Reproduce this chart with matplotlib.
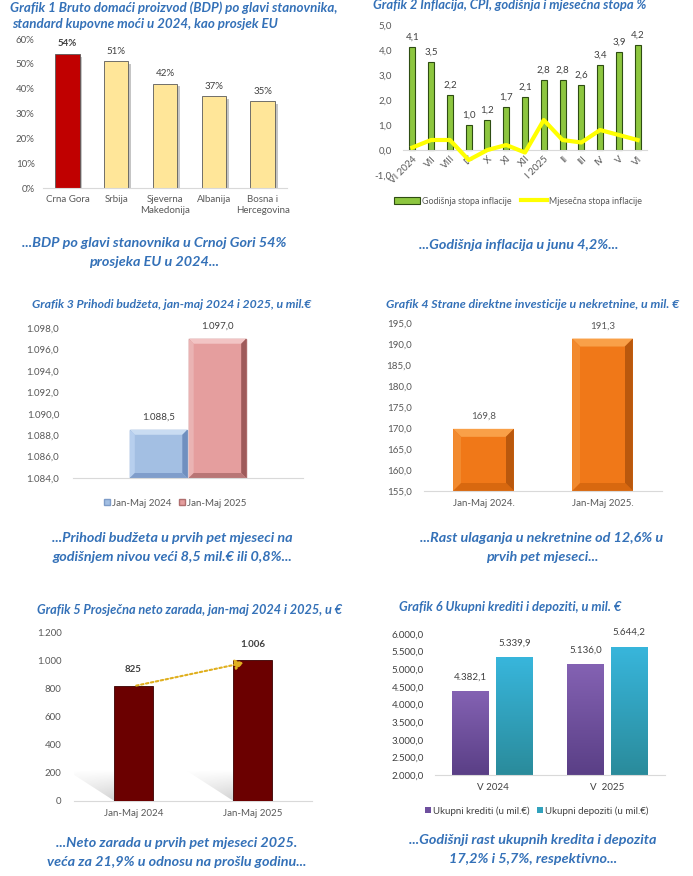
import numpy as np
import matplotlib
matplotlib.use("Agg")
import matplotlib.pyplot as plt
from matplotlib.patches import Polygon, Patch
from matplotlib.lines import Line2D
from matplotlib.colors import LinearSegmentedColormap
import matplotlib.patheffects as pe

# ---------------- data ----------------
p1_countries = ["Crna Gora", "Srbija", "Sjeverna\nMakedonija", "Albanija", "Bosna i\nHercegovina"]
p1_values = [54, 51, 42, 37, 35]

p2_months = ["VI 2024", "VII", "VIII", "IX", "X", "XI", "XII", "I 2025", "II", "III", "IV", "V", "VI"]
p2_annual = [4.1, 3.5, 2.2, 1.0, 1.2, 1.7, 2.1, 2.8, 2.8, 2.6, 3.4, 3.9, 4.2]
p2_monthly = [0.1, 0.4, 0.4, -0.4, 0.0, 0.2, -0.1, 1.2, 0.4, 0.3, 0.8, 0.6, 0.4]

p3_series = ["Jan-Maj 2024", "Jan-Maj 2025"]
p3_values = [1088.5, 1097.0]

p4_periods = ["Jan-Maj 2024.", "Jan-Maj 2025."]
p4_values = [169.8, 191.3]

p5_periods = ["Jan-Maj 2024", "Jan-Maj 2025"]
p5_values = [825, 1006]

p6_periods = ["V 2024", "V  2025"]
p6_credits = [4382.1, 5136.0]
p6_deposits = [5339.9, 5644.2]
p6_series = ["Ukupni krediti (u mil.€)", "Ukupni depoziti (u mil.€)"]

# ---------------- styling ----------------
FONT = ["Lato", "DejaVu Sans"]
plt.rcParams["font.family"] = FONT
W, H = 693, 876
BLUE = "#3471b8"
TICK = "#595959"
LBL = "#404040"
AXLINE = "#d9d9d9"
FS = 7.0

fig = plt.figure(figsize=(W / 100, H / 100), dpi=100)
fig.patch.set_facecolor("white")


def axpx(l, t, r, b):
    return fig.add_axes([l / W, 1 - b / H, (r - l) / W, (b - t) / H])


def ftext(x, y, s, **kw):
    return fig.text(x / W, 1 - y / H, s, **kw)


def title(x, y, s, size=9.3):
    ftext(x, y, s, ha="left", va="center", fontsize=size, fontweight="bold",
          fontstyle="italic", color=BLUE)


def subtitle(x, y, lines):
    for i, s in enumerate(lines):
        ftext(x, y + i * 19, s, ha="center", va="center", fontsize=10.4,
              fontweight="bold", fontstyle="italic", color=BLUE)


def num(v, dec):
    s = f"{v:,.{dec}f}"
    return s.replace(",", "#").replace(".", ",").replace("#", ".")


def style_ax(ax):
    for s in ["top", "right", "left"]:
        ax.spines[s].set_visible(False)
    ax.spines["bottom"].set_color(AXLINE)
    ax.tick_params(axis="both", length=0, colors=TICK, labelsize=FS)
    ax.set_facecolor("none")


def px_per_unit(ax):
    bb = ax.get_position()
    x0, x1 = ax.get_xlim()
    y0, y1 = ax.get_ylim()
    return bb.width * W / (x1 - x0), bb.height * H / (y1 - y0)


def bevel(ax, bar, face, light, side_light, dark, bottom, inset_px):
    pxx, pxy = px_per_unit(ax)
    dx, dy = inset_px / pxx, inset_px / pxy
    L = bar.get_x(); R = L + bar.get_width()
    B = bar.get_y(); T = B + bar.get_height()
    z = bar.get_zorder() + 0.1
    polys = [
        ([(L, T), (R, T), (R - dx, T - dy), (L + dx, T - dy)], light),
        ([(L, B), (L, T), (L + dx, T - dy), (L + dx, B + dy)], side_light),
        ([(R, B), (R, T), (R - dx, T - dy), (R - dx, B + dy)], dark),
        ([(L, B), (R, B), (R - dx, B + dy), (L + dx, B + dy)], bottom),
        ([(L + dx, B + dy), (R - dx, B + dy), (R - dx, T - dy), (L + dx, T - dy)], face),
    ]
    for pts, c in polys:
        ax.add_patch(Polygon(pts, closed=True, facecolor=c, edgecolor="none", zorder=z))


def gradient_bar(ax, bar, top_c, bot_c):
    x0, y0 = bar.get_x(), bar.get_y()
    w, h = bar.get_width(), bar.get_height()
    cmap = LinearSegmentedColormap.from_list("g", [bot_c, top_c])
    grad = np.linspace(0, 1, 200).reshape(-1, 1)
    im = ax.imshow(grad, extent=[x0, x0 + w, y0, y0 + h], origin="lower",
                   cmap=cmap, aspect="auto", zorder=bar.get_zorder() + 0.1,
                   interpolation="bilinear")
    im.set_clip_path(bar)


# ================= Panel 1 =================
title(10, 8, "Grafik 1 Bruto domaći proizvod (BDP) po glavi stanovnika,", 9.6)
title(12, 24, "standard kupovne moći u 2024, kao prosjek EU", 9.6)
ax1 = axpx(43, 39, 287, 188)
style_ax(ax1)
x1 = np.arange(len(p1_countries))
cols1 = ["#c00000"] + ["#ffe699"] * (len(p1_values) - 1)
vals1 = np.array(p1_values) / 100
bars1 = ax1.bar(x1, vals1, width=0.5, color=cols1, edgecolor="#5a5a5a", linewidth=0.6)
for b in bars1:
    b.set_path_effects([pe.SimplePatchShadow(offset=(2, -2), shadow_rgbFace="#7f7f7f", alpha=0.45),
                        pe.Normal()])
ax1.set_xlim(-0.5, len(p1_values) - 0.5)
ax1.set_ylim(0, 0.6)
ax1.set_yticks(np.arange(0, 0.61, 0.1))
ax1.set_yticklabels([f"{int(round(v * 100))}%" for v in np.arange(0, 0.61, 0.1)])
ax1.set_xticks(x1)
ax1.set_xticklabels(p1_countries, fontsize=FS, linespacing=1.25)
ax1.tick_params(axis="x", pad=5)
ax1.tick_params(axis="y", pad=6)
for i, v in enumerate(p1_values):
    ax1.annotate(f"{v}%", (i, v / 100), xytext=(0, 4), textcoords="offset points",
                 ha="center", va="bottom", fontsize=FS, color=LBL,
                 fontweight="bold" if i == 0 else "normal")
subtitle(154, 243, ["...BDP po glavi stanovnika u Crnoj Gori 54%", "prosjeka EU u 2024..."])

# ================= Panel 2 =================
title(373, 5, "Grafik 2 Inflacija, CPI, godišnja i mjesečna stopa %", 9.4)
ax2 = axpx(403, 25, 647, 175)
style_ax(ax2)
x2 = np.arange(len(p2_months))
ax2.bar(x2, p2_annual, width=0.32, color="#8dc63f", edgecolor="#2e4d12", linewidth=0.8, zorder=2)
ax2.plot(x2, p2_monthly, color="#ffff00", lw=3, zorder=3, solid_joinstyle="round")
ax2.set_xlim(-0.5, len(p2_months) - 0.5)
ax2.set_ylim(-1, 5)
ax2.spines["bottom"].set_position(("data", 0))
ax2.set_yticks(np.arange(-1, 5.1, 1))
ax2.set_yticklabels([num(v, 1) for v in np.arange(-1, 5.1, 1)])
ax2.set_xticks(x2)
ax2.set_xticklabels(p2_months, rotation=45, ha="right", rotation_mode="anchor", fontsize=FS)
ax2.tick_params(axis="x", pad=3)
ax2.tick_params(axis="y", pad=8)
for i, v in enumerate(p2_annual):
    ax2.annotate(num(v, 1), (i, v), xytext=(0, 4), textcoords="offset points",
                 ha="center", va="bottom", fontsize=FS, color=LBL)
h2 = [Patch(facecolor="#8dc63f", edgecolor="#2e4d12", linewidth=0.8),
      Line2D([0], [0], color="#ffff00", lw=3)]
fig.legend(h2, ["Godišnja stopa inflacije", "Mjesečna stopa inflacije"],
           loc="center", bbox_to_anchor=(518 / W, 1 - 201 / H), ncol=2, frameon=False,
           fontsize=6.4, handlelength=2.9, handleheight=0.8, columnspacing=1.0,
           handletextpad=0.3, labelcolor=TICK)
subtitle(519, 245, ["...Godišnja inflacija u junu 4,2%..."])

# ================= Panel 3 =================
title(32, 305, "Grafik 3 Prihodi budžeta, jan-maj 2024 i 2025, u mil.€", 8.8)
ax3 = axpx(73, 328, 303, 478)
style_ax(ax3)
ax3.set_xlim(-0.5, 0.5)
ax3.set_ylim(1084, 1098)
base3 = 1084
offs3 = [-0.128, 0.128]
faces3 = [("#a3bfe3", "#c9dcf2", "#b7cfee", "#6f8fbf", "#7f9dcb"),
          ("#e59e9e", "#f2c4c4", "#eab3b3", "#9e5a5a", "#b87575")]
edge3 = ["#7e9cc8", "#b06f6f"]
for k, v in enumerate(p3_values):
    b = ax3.bar(offs3[k], v - base3, bottom=base3, width=0.25, color=faces3[k][0],
                edgecolor=edge3[k], linewidth=1.0, zorder=2)[0]
    bevel(ax3, b, *faces3[k], inset_px=5)
    ax3.annotate(num(v, 1), (offs3[k], v), xytext=(0, 6), textcoords="offset points",
                 ha="center", va="bottom", fontsize=FS, color=LBL)
ax3.set_xticks([])
ax3.set_yticks(np.arange(1084, 1098.1, 2))
ax3.set_yticklabels([num(v, 1) for v in np.arange(1084, 1098.1, 2)])
ax3.tick_params(axis="y", pad=10)
h3 = [Patch(facecolor=faces3[0][0], edgecolor=edge3[0]), Patch(facecolor=faces3[1][0], edgecolor=edge3[1])]
fig.legend(h3, p3_series, loc="center", bbox_to_anchor=(175 / W, 1 - 503 / H), ncol=2,
           frameon=False, fontsize=FS, handlelength=0.6, handleheight=0.6,
           columnspacing=0.8, handletextpad=0.2, labelcolor=TICK)
subtitle(172, 538, ["...Prihodi budžeta u prvih pet mjeseci na",
                    "godišnjem nivou veći 8,5 mil.€ ili 0,8%..."])

# ================= Panel 4 =================
title(386, 304, "Grafik 4 Strane direktne investicije u nekretnine, u mil. €", 8.9)
ax4 = axpx(424, 323, 662, 491)
style_ax(ax4)
x4 = np.arange(len(p4_periods))
ax4.set_xlim(-0.5, len(p4_periods) - 0.5)
ax4.set_ylim(155, 195)
base4 = 155
for i, v in enumerate(p4_values):
    b = ax4.bar(i, v - base4, bottom=base4, width=0.51, color="#f07818",
                edgecolor="none", zorder=2)[0]
    bevel(ax4, b, "#f07818", "#f9a048", "#f28a2e", "#b9580d", "#d8680f", inset_px=8)
    ax4.annotate(num(v, 1), (i, v), xytext=(0, 6), textcoords="offset points",
                 ha="center", va="bottom", fontsize=FS, color=TICK)
ax4.set_xticks(x4)
ax4.set_xticklabels(p4_periods)
ax4.set_yticks(np.arange(155, 195.1, 5))
ax4.set_yticklabels([num(v, 1) for v in np.arange(155, 195.1, 5)])
ax4.tick_params(axis="y", pad=9)
ax4.tick_params(axis="x", pad=6)
subtitle(542, 538, ["...Rast ulaganja u nekretnine od 12,6% u", "prvih pet mjeseci..."])

# ================= Panel 5 =================
title(37, 610, "Grafik 5 Prosječna neto zarada, jan-maj 2024 i 2025, u €", 9.2)
ax5 = axpx(74, 633, 312, 801)
style_ax(ax5)
x5 = np.arange(len(p5_periods))
ax5.set_xlim(-0.5, len(p5_periods) - 0.5)
ax5.set_ylim(0, 1200)
bw5 = 0.32
bars5 = ax5.bar(x5, p5_values, width=bw5, color="#6b0000", edgecolor="#3a0000",
                linewidth=0.6, zorder=3)
# soft perspective shadows
for b in bars5:
    L = b.get_x(); R = L + b.get_width()
    hs = 220
    poly = Polygon([(L, 0), (R, 0), (R - 0.28, hs), (L - 0.4, hs)], closed=True,
                   facecolor="none", edgecolor="none")
    ax5.add_patch(poly)
    yy, xx = np.mgrid[0:1:100j, 0:1:100j]
    alpha = (1 - yy) * 0.55 * (0.4 + 0.6 * xx)
    rgba = np.zeros((100, 100, 4))
    rgba[..., :3] = 0.55
    rgba[..., 3] = alpha
    im = ax5.imshow(rgba, extent=[L - 0.4, R, 0, hs], origin="lower", aspect="auto",
                    zorder=1, interpolation="bilinear")
    im.set_clip_path(poly)
ax5.set_xlim(-0.5, len(p5_periods) - 0.5)
ax5.set_ylim(0, 1200)
for i, v in enumerate(p5_values):
    ax5.annotate(num(v, 0), (i, v), xytext=(0, 8), textcoords="offset points",
                 ha="center", va="bottom", fontsize=FS, color=LBL, fontweight="bold")
ax5.annotate("", xy=(x5[1] - 0.05, p5_values[1] - 15), xytext=(x5[0], p5_values[0] - 5),
             arrowprops=dict(arrowstyle="-|>,head_length=0.5,head_width=0.3",
                             linestyle=(0, (1.2, 1.2)), color="#e0b020", lw=1.5),
             zorder=4)
ax5.set_xticks(x5)
ax5.set_xticklabels(p5_periods)
ax5.set_yticks(np.arange(0, 1201, 200))
ax5.set_yticklabels([num(v, 0) for v in np.arange(0, 1201, 200)])
ax5.tick_params(axis="y", pad=9)
ax5.tick_params(axis="x", pad=6)
subtitle(177, 843, ["...Neto zarada u prvih pet mjeseci 2025.",
                    "veća za 21,9% u odnosu na prošlu godinu..."])

# ================= Panel 6 =================
title(399, 607, "Grafik 6 Ukupni krediti i depoziti, u mil. €", 9.3)
ax6 = axpx(435, 634, 665, 775)
style_ax(ax6)
x6 = np.arange(len(p6_periods))
ax6.set_xlim(-0.5, len(p6_periods) - 0.5)
ax6.set_ylim(2000, 6000)
base6 = 2000
bw6 = 0.32
off6 = 0.19
cols6 = [("#8462b3", "#5a3f86"), ("#38b6dc", "#2a8b9b")]
for k, series in enumerate([p6_credits, p6_deposits]):
    xs = x6 + (-off6 if k == 0 else off6)
    bs = ax6.bar(xs, np.array(series) - base6, bottom=base6, width=bw6,
                 color=cols6[k][0], edgecolor="none", zorder=2)
    for b in bs:
        gradient_bar(ax6, b, cols6[k][0], cols6[k][1])
    for xi, v in zip(xs, series):
        ax6.annotate(num(v, 1), (xi, v), xytext=(0, 7), textcoords="offset points",
                     ha="center", va="bottom", fontsize=FS, color=LBL)
ax6.set_xlim(-0.5, len(p6_periods) - 0.5)
ax6.set_ylim(2000, 6000)
ax6.set_xticks(x6)
ax6.set_xticklabels(p6_periods)
ax6.set_yticks(np.arange(2000, 6001, 500))
ax6.set_yticklabels([num(v, 1) for v in np.arange(2000, 6001, 500)])
ax6.tick_params(axis="y", pad=8)
ax6.tick_params(axis="x", pad=6)
ax6.tick_params(colors="#404040")
h6 = [Patch(facecolor="#6e4f9e"), Patch(facecolor="#31a2bd")]
fig.legend(h6, p6_series, loc="center", bbox_to_anchor=(537 / W, 1 - 811 / H), ncol=2,
           frameon=False, fontsize=FS, handlelength=0.6, handleheight=0.6,
           columnspacing=0.8, handletextpad=0.2, labelcolor=LBL)
subtitle(533, 840, ["...Godišnji rast ukupnih kredita i depozita",
                    "17,2% i 5,7%, respektivno..."])

fig.savefig("out.png", dpi=100, facecolor="white")
